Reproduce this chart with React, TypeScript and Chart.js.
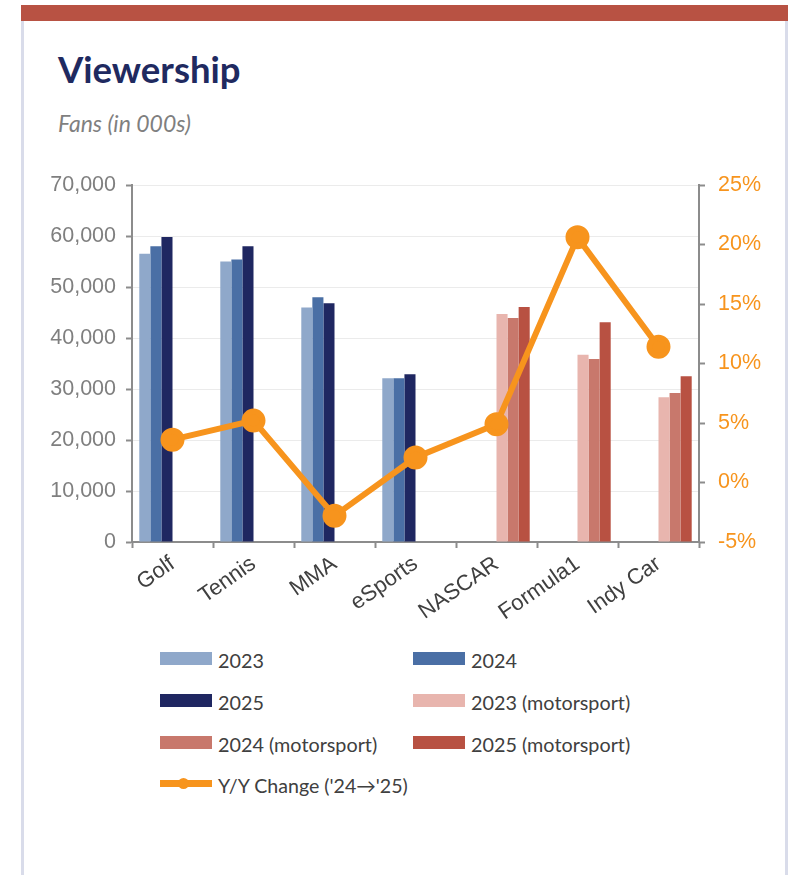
import { useEffect, useRef } from "react";
import { Chart, registerables } from "chart.js";

Chart.register(...registerables);

const categories = ["Golf", "Tennis", "MMA", "eSports", "NASCAR", "Formula1", "Indy Car"];
const fans2023 = [56500, 55000, 46000, 32100, null, null, null];
const fans2024 = [58000, 55400, 48000, 32100, null, null, null];
const fans2025 = [59800, 58000, 46800, 32900, null, null, null];
const moto2023 = [null, null, null, null, 44700, 36700, 28400];
const moto2024 = [null, null, null, null, 43900, 35900, 29200];
const moto2025 = [null, null, null, null, 46100, 43100, 32500];
const yoyChange = [3.6, 5.2, -2.8, 2.1, 4.9, 20.6, 11.4];

const seriesLabels = ["2023", "2024", "2025", "2023 (motorsport)", "2024 (motorsport)", "2025 (motorsport)"];
const lineLabel = "Y/Y Change ('24\u2192'25)";
const colors = ["#8FA8CA", "#4A6FA5", "#1F2761", "#E8B5AE", "#C8786C", "#B85142"];
const orange = "#F7941D";

const TICK_FONT = "'Liberation Sans', Arial, sans-serif";
const TEXT_FONT = "Lato, 'Open Sans', sans-serif";

if (typeof document !== "undefined") {
  document.body.style.margin = "0";
}

export default function App() {
  const ref = useRef<HTMLCanvasElement | null>(null);

  useEffect(() => {
    if (!ref.current) return;
    const barData = [fans2023, fans2024, fans2025, moto2023, moto2024, moto2025];
    const chart = new Chart(ref.current, {
      type: "bar",
      data: {
        labels: categories,
        datasets: [
          {
            type: "line",
            label: lineLabel,
            data: yoyChange,
            yAxisID: "y1",
            borderColor: orange,
            backgroundColor: orange,
            borderWidth: 6,
            pointRadius: 9,
            pointBackgroundColor: orange,
            pointBorderColor: orange,
            order: 0,
          } as any,
          ...barData.map((d, i) => ({
            type: "bar" as const,
            label: seriesLabels[i],
            data: d,
            backgroundColor: colors[i],
            yAxisID: "y",
            categoryPercentage: 0.82,
            barPercentage: 1.0,
            order: 1,
          })),
        ],
      },
      options: {
        animation: false,
        responsive: false,
        maintainAspectRatio: false,
        layout: { padding: { top: 185, left: 0, right: 0, bottom: 0 } },
        plugins: { legend: { display: false }, tooltip: { enabled: false } },
        scales: {
          x: {
            grid: { display: true, drawOnChartArea: false, tickLength: 6, tickColor: "#8c8c8c", tickWidth: 2, offset: true },
            border: { color: "#8c8c8c", width: 2 },
            ticks: {
              color: "#404040",
              font: { family: TICK_FONT, size: 22 },
              maxRotation: 35,
              minRotation: 35,
              padding: 3,
              autoSkip: false,
            },
            afterFit: (s: any) => { s.height = 98; },
          },
          y: {
            position: "left",
            min: 0,
            max: 70000,
            grid: { color: "#ebebeb", lineWidth: 1, tickLength: 6, tickColor: "#8c8c8c", tickWidth: 2 },
            border: { color: "#8c8c8c", width: 2 },
            ticks: {
              stepSize: 10000,
              color: "#7f7f7f",
              font: { family: TICK_FONT, size: 21.5 },
              padding: 10,
              callback: (v: any) => Number(v).toLocaleString("en-US"),
            },
            afterFit: (s: any) => { s.width = 132; },
          },
          y1: {
            position: "right",
            min: -5,
            max: 25,
            grid: { drawOnChartArea: false, tickLength: 6, tickColor: "#8c8c8c", tickWidth: 2 },
            border: { color: "#8c8c8c", width: 2 },
            ticks: {
              stepSize: 5,
              color: orange,
              font: { family: TICK_FONT, size: 21.5 },
              padding: 13,
              callback: (v: any) => `${v}%`,
            },
            afterFit: (s: any) => { s.width = 96; },
          },
        },
      } as any,
    });
    return () => chart.destroy();
  }, []);

  const legendItems = seriesLabels.map((l, i) => ({ label: l, color: colors[i] }));
  const colX = [160, 413];
  const rowTop = [652, 694, 736];

  return (
    <div style={{ position: "relative", width: 795, height: 875, overflow: "hidden", background: "#fff" }}>
      <div style={{ position: "absolute", left: 21, top: 5, width: 767, height: 16, background: "#B85243" }} />
      <div style={{ position: "absolute", left: 21, top: 21, width: 3, height: 860, background: "#D9DCEA" }} />
      <div style={{ position: "absolute", left: 785, top: 21, width: 3, height: 860, background: "#D9DCEA" }} />
      <div
        style={{
          position: "absolute",
          left: 58,
          top: 51,
          fontFamily: TEXT_FONT,
          fontWeight: 700,
          fontSize: 36.5,
          lineHeight: 1,
          color: "#1F2A60",
          whiteSpace: "nowrap",
        }}
      >
        Viewership
      </div>
      <div
        style={{
          position: "absolute",
          left: 58,
          top: 112,
          fontFamily: TEXT_FONT,
          fontStyle: "italic",
          fontSize: 23,
          lineHeight: 1,
          color: "#7F7F7F",
          whiteSpace: "nowrap",
        }}
      >
        Fans (in 000s)
      </div>
      <canvas ref={ref} width={795} height={640} style={{ position: "absolute", left: 0, top: 0, width: 795, height: 640 }} />
      {legendItems.map((it, i) => {
        const col = i % 2;
        const row = Math.floor(i / 2);
        return (
          <div key={it.label}>
            <div
              style={{
                position: "absolute",
                left: colX[col],
                top: rowTop[row],
                width: 52,
                height: 13,
                background: it.color,
              }}
            />
            <div
              style={{
                position: "absolute",
                left: colX[col] + 58,
                top: rowTop[row] - 1,
                fontFamily: TEXT_FONT,
                fontSize: 19.8,
                lineHeight: 1,
                color: "#404040",
                whiteSpace: "nowrap",
              }}
            >
              {it.label}
            </div>
          </div>
        );
      })}
      <div style={{ position: "absolute", left: 160, top: 780, width: 52, height: 7, background: orange }} />
      <div style={{ position: "absolute", left: 178, top: 778, width: 11, height: 11, borderRadius: "50%", background: orange }} />
      <div
        style={{
          position: "absolute",
          left: 218,
          top: 776,
          fontFamily: TEXT_FONT,
          fontSize: 19.6,
          lineHeight: 1,
          color: "#404040",
          whiteSpace: "nowrap",
        }}
      >
        {lineLabel}
      </div>
    </div>
  );
}
